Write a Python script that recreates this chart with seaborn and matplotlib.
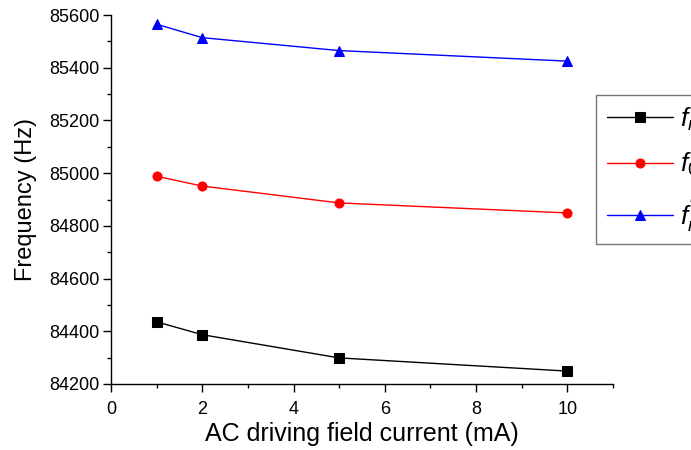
import matplotlib
matplotlib.use("Agg")
import matplotlib.pyplot as plt
import seaborn as sns
import pandas as pd
from matplotlib.ticker import MultipleLocator

sns.set_theme(style="ticks")
plt.rcParams['font.family'] = ['Liberation Sans', 'DejaVu Sans']
plt.rcParams['mathtext.fontset'] = 'custom'
plt.rcParams['mathtext.it'] = 'Liberation Sans:italic'
plt.rcParams['mathtext.rm'] = 'Liberation Sans'
plt.rcParams['text.color'] = 'black'
plt.rcParams['axes.labelcolor'] = 'black'

current = [1, 2, 5, 10]
f_r = [84436, 84387, 84299, 84249]
f_0 = [84988, 84951, 84887, 84849]
f_r_prime = [85565, 85514, 85465, 85425]
labels = ["$f_r$", "$f_0$", "$f^{'}_r$"]

fig = plt.figure(figsize=(6.91, 4.5), dpi=100)
ax = fig.add_axes([111/691, 1-384/450, (613-111)/691, (384-15)/450])

series = [(f_r, "black", "s"), (f_0, "red", "o"), (f_r_prime, "blue", "^")]
for (vals, col, mk), lab in zip(series, labels):
    df = pd.DataFrame({"x": current, "y": vals})
    sns.lineplot(data=df, x="x", y="y", ax=ax, color=col, marker=mk,
                 markersize=6.5, markeredgecolor=col, linewidth=1, label=lab)

ax.set_xlim(0, 11)
ax.set_ylim(84200, 85600)
ax.xaxis.set_major_locator(MultipleLocator(2))
ax.xaxis.set_minor_locator(MultipleLocator(1))
ax.yaxis.set_major_locator(MultipleLocator(200))
ax.yaxis.set_minor_locator(MultipleLocator(100))
ax.tick_params(which='major', direction='out', length=6, width=1, labelsize=13,
               colors='black', pad=2)
ax.tick_params(axis='x', which='major', pad=6)
ax.tick_params(which='minor', direction='out', length=3, width=1, colors='black')
for s in ['top', 'right']:
    ax.spines[s].set_visible(False)
for s in ['left', 'bottom']:
    ax.spines[s].set_color('black')
    ax.spines[s].set_linewidth(1)
ax.set_xlabel("AC driving field current (mA)", fontsize=18, labelpad=3, color='black')
ax.set_ylabel("Frequency (Hz)", fontsize=17, labelpad=9, color='black')

leg = ax.legend(loc='upper left', bbox_to_anchor=(596/691, 1-95/450),
                bbox_transform=fig.transFigure, fontsize=19, frameon=True,
                fancybox=False, edgecolor='#555555', handlelength=2.5,
                borderaxespad=0, labelspacing=0.7, handletextpad=0.3)
leg.get_frame().set_linewidth(1)
for t in leg.get_texts():
    t.set_color('black')

fig.savefig("out.png", dpi=100)
